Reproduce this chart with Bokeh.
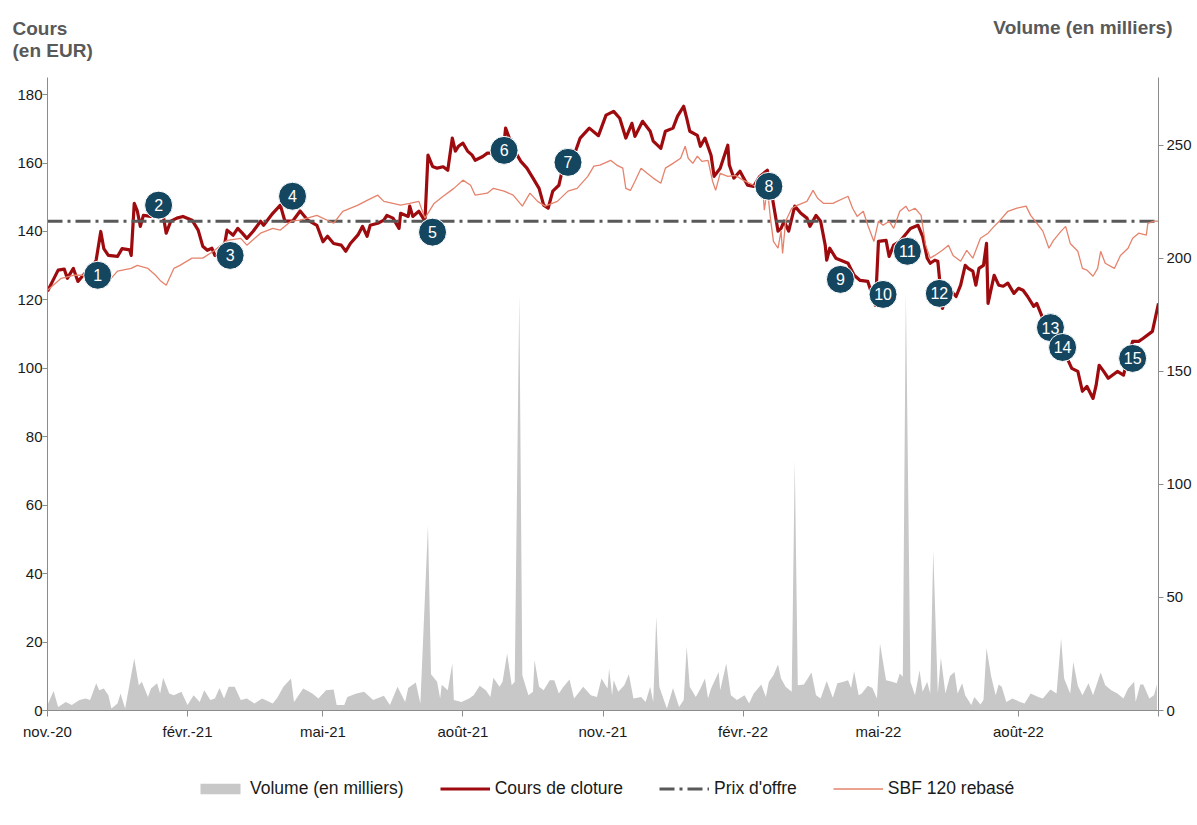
import pandas as pd
from bokeh.plotting import figure
from bokeh.layouts import column
from bokeh.models import (Range1d, LinearAxis, FixedTicker, SingleIntervalTicker,
                          Legend, LegendItem, Label, ColumnDataSource)
from bokeh.core.properties import value
from bokeh.embed import file_html
from bokeh.resources import INLINE

FONT = "Liberation Sans"
START = pd.Timestamp("2020-11-01")

# ---- data (x = days since 1 Nov 2020) ----
price_days = [0, 7, 11, 13, 17, 20, 25, 28, 32, 35, 37, 40, 46, 49, 54, 55, 57, 59, 61, 63, 68, 71, 76, 78, 81, 85, 89, 95, 99, 102, 105, 108, 110, 115, 118, 122, 125, 128, 131, 135, 140, 142, 148, 153, 156, 161, 166, 171, 177, 181, 184, 188, 193, 196, 199, 204, 207, 210, 212, 217, 221, 223, 227, 231, 232, 237, 238, 240, 244, 248, 250, 253, 256, 260, 263, 266, 268, 270, 273, 276, 279, 281, 286, 289, 292, 296, 300, 301, 306, 311, 315, 319, 323, 326, 329, 332, 336, 339, 346, 350, 356, 362, 367, 372, 376, 380, 384, 386, 391, 396, 398, 403, 406, 411, 414, 418, 420, 422, 427, 429, 432, 436, 438, 442, 447, 448, 451, 455, 460, 464, 468, 473, 476, 480, 482, 484, 487, 491, 495, 499, 501, 505, 508, 511, 512, 514, 518, 526, 530, 534, 539, 542, 544, 546, 551, 553, 556, 560, 567, 572, 575, 578, 580, 583, 585, 588, 592, 597, 600, 603, 605, 608, 610, 612, 615, 617, 618, 622, 625, 628, 631, 635, 638, 641, 644, 648, 650, 654, 659, 664, 670, 673, 677, 680, 683, 687, 689, 691, 694, 697, 703, 707, 713, 717, 720, 726, 730]
price_values = [122.5, 128.7, 129, 126.3, 129.2, 125.4, 128, 128, 131.7, 140, 135, 133, 132.7, 135, 134.6, 133, 148.2, 146, 141.5, 144.7, 144.4, 146.8, 144.7, 139.5, 143, 143.9, 144.4, 143.3, 140.4, 135.7, 134.5, 135.1, 133, 132.7, 140.4, 138.9, 140.9, 139.5, 138, 140, 143, 141.8, 145.3, 147.7, 143, 143, 146, 143.3, 141.8, 137, 138.6, 136.5, 136, 134.2, 136.5, 139, 141.5, 138.6, 141.8, 142.4, 143.3, 144.7, 143.9, 140.9, 145.3, 144.4, 147.4, 144.4, 145.9, 143, 162.3, 159, 158.5, 158.9, 157.9, 167.3, 163.5, 164.9, 165.8, 163.5, 162.3, 160.8, 161.9, 162.9, 162.9, 164.3, 165.8, 170.2, 164.3, 160.5, 158.5, 155.6, 152.6, 147.7, 146.8, 151.8, 153.5, 159.4, 162.3, 167.3, 170.2, 168, 174, 175.1, 173.1, 167.3, 171.6, 167.8, 172.2, 169.3, 166.4, 164.3, 169.3, 170.2, 173.7, 176.6, 173.1, 169.3, 168.1, 164.9, 167.3, 162.3, 156.1, 158.5, 165.2, 159.4, 155.6, 157.6, 153.5, 153.2, 156.1, 157.9, 150.6, 140.1, 140.9, 143, 140.1, 147.4, 145.3, 143.9, 141.5, 144.7, 143, 136, 131.6, 135.1, 132.2, 130.7, 127.2, 125.7, 125.4, 121.3, 118.4, 137.1, 137.4, 132.7, 136, 137.1, 140.9, 141.8, 138.6, 132.2, 130.7, 131.6, 131.3, 117.5, 123.4, 121, 124.3, 130.1, 129.2, 128.4, 124.3, 129.2, 130.1, 136.5, 119, 127.2, 124.3, 124, 124.9, 121.9, 123.4, 122.8, 121, 118.1, 119, 114.6, 108.8, 106.7, 102.9, 100, 99.1, 93.3, 94.7, 91.2, 95, 100.9, 99.1, 97.1, 99.1, 98, 107.9, 107.9, 108.8, 110.8, 119]

sbf_days = [0, 9, 17, 24, 30, 39, 46, 55, 59, 66, 71, 74, 78, 83, 87, 95, 102, 109, 118, 127, 131, 140, 148, 153, 160, 166, 177, 188, 194, 204, 210, 217, 221, 227, 232, 238, 244, 248, 254, 260, 267, 273, 278, 281, 289, 293, 300, 306, 312, 317, 322, 327, 335, 342, 348, 355, 359, 363, 370, 374, 378, 380, 383, 386, 390, 394, 398, 403, 406, 411, 416, 419, 421, 424, 427, 430, 434, 437, 439, 442, 447, 452, 457, 464, 470, 471, 473, 475, 477, 480, 482, 483, 485, 489, 493, 499, 503, 506, 510, 516, 526, 529, 532, 536, 539, 543, 546, 549, 553, 556, 560, 564, 566, 570, 574, 577, 580, 583, 588, 592, 595, 600, 604, 608, 613, 618, 622, 626, 631, 637, 643, 646, 649, 654, 658, 661, 666, 669, 672, 677, 680, 683, 687, 690, 692, 695, 701, 705, 710, 713, 717, 722, 723, 727, 730]
sbf_values = [122.8, 126.3, 127.2, 127.2, 126.3, 124.9, 128.4, 129.2, 130.1, 129.2, 127.2, 125.7, 124.3, 129.2, 130.1, 132.2, 132.2, 134.2, 137.4, 138, 136, 139.5, 140.9, 140.4, 143, 143.3, 144.7, 142.4, 145.9, 147.7, 149.1, 150.6, 148.8, 148.2, 147.7, 148.2, 148.8, 143.9, 148.2, 150.3, 152.6, 155, 153.5, 150.6, 151.2, 152.6, 151.8, 150.6, 147.4, 151.2, 148.8, 147.4, 148.8, 151.8, 152.6, 156.1, 159.1, 159.4, 160.8, 159.4, 158.5, 152.6, 152, 154.7, 158.5, 157, 155.6, 154.1, 158.5, 159.9, 161.4, 164.9, 161.4, 159.9, 162, 160.5, 160.8, 154.7, 152, 157, 156.1, 156.4, 155, 153.5, 152.6, 146.2, 152.6, 143.9, 137.1, 135.1, 140.1, 133.6, 143, 146.8, 147.7, 148.8, 152, 149.7, 148.2, 148.2, 150.3, 146.8, 144.4, 145.9, 141.8, 137.1, 143, 141.8, 143, 140.9, 145.9, 147.4, 145.9, 146.8, 144.7, 136, 132.2, 133, 134.5, 136, 133, 131.3, 134.5, 132.2, 138, 139.5, 141.5, 143.3, 145.9, 146.8, 147.4, 144.7, 143, 140.1, 135.1, 137.4, 140.1, 141.5, 136.5, 134.2, 129.2, 128.7, 126.9, 129.2, 134.2, 130.7, 129.2, 133, 135.1, 138, 139.5, 138.9, 142.4, 143, 143]

volume_days = [0, 4, 7, 12, 16, 21, 25, 28, 32, 34, 37, 40, 42, 46, 48, 51, 53, 57, 60, 62, 66, 68, 72, 74, 76, 80, 83, 88, 92, 96, 100, 103, 107, 110, 113, 116, 119, 123, 127, 131, 136, 141, 148, 151, 155, 158, 160, 162, 168, 174, 178, 183, 188, 190, 195, 197, 203, 208, 214, 221, 225, 230, 235, 237, 242, 245, 250, 252, 256, 258, 259, 263, 266, 267, 272, 277, 280, 284, 288, 291, 293, 297, 299, 302, 305, 307, 310, 312, 316, 319, 320, 323, 326, 330, 333, 336, 339, 343, 346, 352, 357, 361, 364, 368, 369, 371, 372, 375, 379, 382, 385, 390, 393, 396, 398, 400, 402, 405, 407, 411, 415, 418, 420, 422, 426, 429, 432, 434, 436, 441, 442, 446, 449, 453, 458, 461, 464, 469, 472, 474, 477, 480, 482, 485, 489, 491, 493, 497, 502, 505, 508, 512, 516, 519, 523, 526, 528, 530, 533, 535, 539, 542, 545, 547, 551, 555, 558, 560, 562, 564, 567, 570, 573, 575, 578, 580, 582, 585, 587, 590, 593, 596, 598, 601, 603, 607, 609, 613, 615, 617, 620, 623, 625, 627, 630, 634, 639, 642, 646, 651, 654, 659, 663, 666, 668, 672, 674, 677, 680, 684, 687, 692, 695, 699, 703, 707, 710, 714, 715, 718, 720, 724, 727, 729]
volume_values = [2.4, 8.6, 1.6, 3.8, 2.4, 4.6, 5.3, 4.6, 12, 9, 9.7, 6.8, 0.9, 3.1, 7.5, 0.9, 8.3, 23, 11.2, 12.7, 6, 9.7, 12, 7.5, 14.5, 7.5, 6.8, 8.3, 2.4, 6.8, 3.8, 9, 4.6, 5.3, 10, 5.3, 10.5, 10.5, 4.6, 5.3, 3.1, 5.3, 3.1, 5.6, 10.5, 12.7, 14.2, 3.8, 9.7, 7.5, 5.3, 9, 9.3, 2.4, 2.4, 6, 7.5, 8.3, 4.6, 6.5, 2.4, 10.5, 3.8, 10, 12.4, 3.1, 81.9, 16, 12.7, 5.3, 11.4, 9, 20.8, 4.6, 3.8, 5.3, 6.8, 11, 9, 6, 14.5, 10.5, 12.7, 25.2, 11.2, 12.7, 184, 15.6, 6.8, 8.3, 22.3, 10.5, 9, 13.4, 13.4, 7.5, 10.5, 13.7, 5.3, 10.5, 6.8, 6, 14.2, 9.7, 18.6, 6.8, 13.4, 8.3, 11.2, 16, 5.3, 6, 3.8, 10.5, 3.8, 41.6, 10.5, 4.6, 0.9, 10, 1.6, 4.6, 28.3, 10.5, 6, 9.7, 14.2, 5.3, 9.7, 17, 9, 20.8, 6.8, 4.6, 6.8, 3.1, 7.5, 11.5, 6, 12.7, 15.6, 20.4, 14.2, 10.5, 8.3, 110.6, 11.2, 11.5, 16.8, 6.8, 5.3, 13, 5.6, 12, 12.7, 13.4, 10, 17.4, 6.8, 7.5, 10.9, 10, 5.3, 29.6, 13.4, 12.7, 12, 16.4, 14.9, 185, 12.7, 6.8, 17.8, 8.3, 12.7, 7.5, 70.8, 7.5, 23.3, 7.5, 15.3, 17, 7.5, 12, 6.8, 2.4, 6, 2.7, 4.6, 27.7, 15.3, 6.8, 11.5, 10.5, 3.8, 5.3, 3.8, 3.1, 7.5, 6, 5.3, 9.3, 7.5, 31.9, 14.2, 7.5, 21.5, 10.9, 6.8, 12, 6.8, 16.8, 11.2, 9, 7.5, 5.3, 9.7, 12.7, 3.8, 11.5, 11.5, 5.3, 6.8, 11.5]

offer_price = 143.0

event_numbers = [1, 2, 3, 4, 5, 6, 7, 8, 9, 10, 11, 12, 13, 14, 15]
event_days = [33, 73, 120, 161, 253, 300, 342, 474, 521, 549, 565, 586, 659, 667, 713]
event_values = [127.2, 147.7, 133, 150.3, 139.8, 163.7, 160.2, 153.2, 126, 121.6, 134.2, 121.9, 111.9, 106.1, 102.9]

tick_dates = ["2020-11-01", "2021-02-01", "2021-05-01", "2021-08-01", "2021-11-01",
              "2022-02-01", "2022-05-01", "2022-08-01", "2022-11-01"]
tick_labels = ["nov.-20", "févr.-21", "mai-21", "août-21", "nov.-21",
               "févr.-22", "mai-22", "août-22", ""]
tick_days = [(pd.Timestamp(d) - START).days for d in tick_dates]

# ---- styles ----
AX = "#8c8c8c"
LBL = "#1a1a1a"
TC = "#595959"
VOL_STYLE = dict(fill_color="#c8c8c8", fill_alpha=1)
PRICE_STYLE = dict(line_color="#9e0b0f", line_width=3.2, line_join="round")
OFFER_STYLE = dict(line_color="#595959", line_width=3, line_dash="15 5 3 5")
SBF_STYLE = dict(line_color="#e5836d", line_width=1.3)
W = 1197

# ---- main chart ----
p = figure(width=W, height=742, output_backend="svg", toolbar_location=None, title=None,
           x_range=Range1d(tick_days[0], tick_days[-1]), y_range=Range1d(0, 185),
           min_border_left=47, min_border_right=39, min_border_top=77, min_border_bottom=30)
p.outline_line_color = None
p.xgrid.grid_line_color = None
p.ygrid.grid_line_color = None
p.extra_y_ranges = {"vol": Range1d(0, 280)}

xa = p.xaxis[0]
xa.ticker = FixedTicker(ticks=tick_days)
xa.major_label_overrides = {d: l for d, l in zip(tick_days, tick_labels)}
ya = p.yaxis[0]
ya.ticker = SingleIntervalTicker(interval=20)
ra = LinearAxis(y_range_name="vol", ticker=SingleIntervalTicker(interval=50))
p.add_layout(ra, "right")
for ax in (xa, ya, ra):
    ax.axis_line_color = AX
    ax.major_tick_line_color = AX
    ax.minor_tick_line_color = None
    ax.major_tick_in = 0
    ax.major_tick_out = 5
    ax.major_label_text_font = FONT
    ax.major_label_text_font_size = "15px"
    ax.major_label_text_color = LBL
xa.major_tick_out = 6
xa.major_label_standoff = 6
ya.major_label_standoff = 0
ra.major_label_standoff = 3

p.varea(x=volume_days, y1=0, y2=volume_values, y_range_name="vol", **VOL_STYLE)
p.line(price_days, price_values, **PRICE_STYLE)
p.line([price_days[0], price_days[-1]], [offer_price, offer_price], **OFFER_STYLE)
p.line(sbf_days, sbf_values, **SBF_STYLE)

src = ColumnDataSource(dict(x=event_days, y=event_values, t=[str(n) for n in event_numbers]))
p.scatter("x", "y", source=src, size=28, marker="circle", fill_color="#15465f",
          line_color="white", line_width=1)
p.text("x", "y", text="t", source=src, text_align="center", text_baseline="middle",
       text_color="white", text_font=value(FONT), text_font_size="16px")

# axis titles (canvas pixel positions, in the top border panel)
for txt, x, y, align in (("Cours", 12, 28, "left"), ("(en EUR)", 12, 50, "left"),
                         ("Volume (en milliers)", 1172, 27, "right")):
    p.add_layout(Label(x=x, y=y, x_units="canvas", y_units="canvas", text=txt,
                       text_align=align, text_baseline="alphabetic", text_font=FONT,
                       text_font_size="19px", text_font_style="bold", text_color=TC),
                 "above")

# ---- legend strip (same series, drawn out of view, only used as legend keys) ----
leg = figure(width=W, height=83, output_backend="svg", toolbar_location=None, title=None,
             x_axis_location=None, y_axis_location=None,
             x_range=Range1d(-2000, -1000), y_range=Range1d(-2000, -1000),
             min_border_left=0, min_border_right=0, min_border_top=0, min_border_bottom=0)
leg.outline_line_color = None
leg.grid.visible = False
k_vol = leg.varea(x=volume_days, y1=0, y2=volume_values, **VOL_STYLE)
k_price = leg.line(price_days, price_values, **PRICE_STYLE)
k_offer = leg.line([price_days[0], price_days[-1]], [offer_price, offer_price], **OFFER_STYLE)
k_sbf = leg.line(sbf_days, sbf_values, **SBF_STYLE)
legend = Legend(items=[
    LegendItem(label="Volume (en milliers)", renderers=[k_vol]),
    LegendItem(label="Cours de cloture", renderers=[k_price]),
    LegendItem(label="Prix d'offre", renderers=[k_offer]),
    LegendItem(label="SBF 120 rebasé", renderers=[k_sbf]),
], orientation="horizontal", location=(148, 26), glyph_width=50, glyph_height=13,
    label_standoff=5, spacing=36, padding=0, margin=0,
    border_line_alpha=0, background_fill_alpha=0,
    label_text_font=FONT, label_text_font_size="17.5px", label_text_color=LBL)
leg.add_layout(legend)

layout = column(p, leg, spacing=0)
open("out.html", "w").write(file_html(layout, INLINE))
